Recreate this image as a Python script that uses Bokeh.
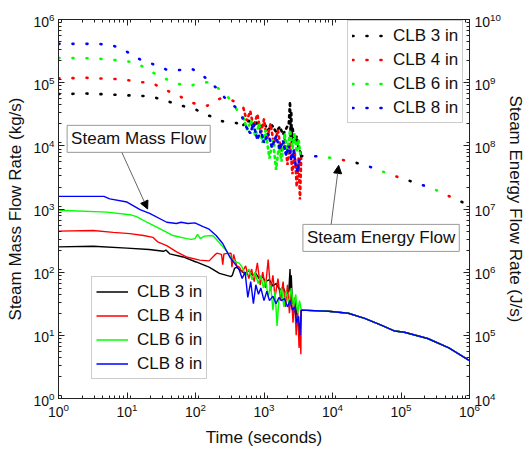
from bokeh.plotting import figure
from bokeh.models import (Range1d, LogScale, LogAxis, LogTicker, Legend, LegendItem,
                          Label, Arrow, NormalHead)
from bokeh.embed import file_html
from bokeh.resources import INLINE

FONT = "Liberation Sans"
series_names = ["CLB 3 in", "CLB 4 in", "CLB 6 in", "CLB 8 in"]
colors = ["#000000", "#ff0000", "#00ff00", "#0000ff"]

# ---------------- steam mass flow (kg/s), left axis ----------------
mass_t_3 = [1, 3.2, 10, 21, 34, 37, 42, 66, 102, 158, 224, 331, 345, 372, 400,
            450, 520, 600, 680, 760, 850, 950, 1050, 1200, 1350, 1500, 1700, 1900,
            2100, 2300, 2400, 2450, 2500, 2600, 2800, 3000, 3200, 3400, 3500]
mass_v_3 = [251, 257, 240, 229, 214, 224, 195, 174, 145, 120, 95.5, 85.1, 89.1, 115, 120,
            107, 95.5, 105, 89.1, 95.5, 79.4, 85.1, 70.8, 75.9, 60.3, 66.1, 52.5, 57.5,
            44.7, 50.1, 112, 35.5, 89.1, 31.6, 35.5, 22.4, 14.1, 10, 25.1]

mass_t_4 = [1, 3.2, 6.3, 11, 17.4, 24, 28, 38, 53, 74, 115, 158, 190, 205, 240, 250, 260,
            330, 340, 360, 400, 437,
            480, 540, 600, 660, 720, 800, 880, 960, 1050, 1150, 1250, 1350, 1450, 1600,
            1750, 1900, 2050, 2200, 2350, 2500, 2650, 2800, 2950, 3100, 3250, 3350, 3450, 3500]
mass_v_4 = [447, 457, 427, 407, 380, 355, 302, 263, 209, 174, 155, 151, 186, 200, 191, 132, 195,
            200, 120, 191, 126, 120,
            100, 126, 79.4, 112, 70.8, 141, 63.1, 100, 56.2, 158, 50.1, 89.1, 39.8, 79.4,
            35.5, 70.8, 28.2, 63.1, 22.4, 50.1, 15.8, 39.8, 10, 25.1, 6.31, 15.8, 5.01, 25.1]

mass_t_6 = [1, 5.1, 11, 13.8, 19.5, 30, 47, 74, 87, 98, 107, 118, 135, 178, 209, 282, 347, 437,
            480, 540, 600, 670, 740, 820, 900, 980, 1060, 1150, 1250, 1350, 1450, 1550, 1650,
            1800, 1950, 2100, 2300, 2500, 2700, 2900, 3100, 3300, 3500]
mass_v_6 = [955, 891, 813, 759, 617, 490, 380, 339, 331, 339, 398, 339, 372, 380, 316, 219, 155, 138,
            120, 89.1, 112, 75.9, 100, 66.1, 89.1, 56.2, 75.9, 39.8, 63.1, 25.1, 50.1, 14.1, 35.5,
            56.2, 28.2, 50.1, 31.6, 56.2, 28.2, 44.7, 22.4, 35.5, 25.1]

mass_t_8 = [1, 4.6, 5.6, 10, 15.5, 21.4, 38, 52.5, 61.7, 77.6, 98, 129, 158, 200, 251, 316, 389,
            430, 480, 530, 580, 640, 700, 760, 830, 900, 1000, 1100, 1200, 1350, 1500, 1650,
            1800, 2000, 2200, 2400, 2600, 2800, 3000, 3200, 3350, 3500]
mass_v_8 = [1585, 1585, 1445, 1288, 977, 851, 617, 589, 617, 589, 603, 525, 479, 380, 282, 174, 129,
            112, 79.4, 100, 39.8, 70.8, 31.6, 63.1, 44.7, 56.2, 35.5, 50.1, 35.5, 41.7, 31.6, 39.8,
            35.5, 38.0, 28.2, 35.5, 25.1, 28.2, 15.8, 20.0, 10, 25.1]

# common long-term tail of the mass flow (all sizes coincide)
mass_tail_t = [3500, 8700, 17000, 29500, 51300, 81300, 112000, 245000, 500000, 1000000]
mass_tail_v = [25.1, 24.0, 22.4, 18.6, 14.5, 11.7, 11.2, 8.91, 6.31, 3.98]

# ---------------- steam energy flow (J/s), right axis ----------------
en_t_3 = [1, 1.4, 2.3, 3.8, 6.2, 10, 16.6, 24.5, 38, 60, 98, 155, 200, 245, 316, 400,
          500, 600, 700, 800, 900, 1000, 1150, 1300, 1500, 1700, 1900, 2100, 2300, 2400,
          2450, 2500, 2550, 2600, 2800, 3000, 3200, 3400, 3500]
en_v_3 = [6.61e8, 6.61e8, 6.76e8, 6.61e8, 6.46e8, 6.31e8, 6.17e8, 5.89e8, 5.13e8, 4.37e8,
          3.80e8, 3.02e8, 2.75e8, 2.45e8, 2.34e8, 2.29e8,
          2.14e8, 2.51e8, 2.0e8, 2.40e8, 1.91e8, 2.29e8, 1.78e8, 2.14e8, 1.66e8, 2.0e8,
          1.51e8, 1.86e8, 2.24e8, 5.01e8, 1.26e8, 3.55e8, 1.0e8, 2.0e8, 1.12e8, 1.41e8,
          8.91e7, 7.94e7, 6.92e7]

en_t_4 = [1, 1.4, 2.3, 3.8, 6.2, 10, 15.8, 22.9, 35.5, 55, 89, 145, 230, 310, 457,
          500, 560, 630, 700, 800, 900, 1000, 1100, 1250, 1400, 1600, 1800, 2000, 2200,
          2400, 2600, 2800, 3000, 3200, 3350, 3450, 3500]
en_v_4 = [1.17e9, 1.17e9, 1.20e9, 1.17e9, 1.15e9, 1.10e9, 1.02e9, 1.0e9, 7.76e8, 6.31e8,
          4.79e8, 4.27e8, 5.62e8, 5.62e8, 4.37e8,
          3.98e8, 2.51e8, 3.55e8, 2.0e8, 3.16e8, 1.58e8, 2.63e8, 1.26e8, 2.24e8, 1.0e8,
          1.78e8, 7.08e7, 1.41e8, 5.01e7, 1.12e8, 3.55e7, 8.91e7, 2.24e7, 6.31e7, 1.41e7,
          3.98e7, 6.92e7]

en_t_6 = [1, 1.4, 2.3, 3.8, 6.2, 10, 14.5, 20.9, 30.9, 47.9, 79.4, 117.5, 170, 210, 300, 410,
          500, 570, 650, 750, 850, 950, 1050, 1200, 1350, 1500, 1650, 1800, 2000, 2200,
          2400, 2600, 2800, 3000, 3200, 3400, 3500]
en_v_6 = [2.45e9, 2.45e9, 2.45e9, 2.40e9, 2.29e9, 2.19e9, 2.0e9, 1.55e9, 1.26e9, 1.0e9,
          8.71e8, 1.0e9, 1.02e9, 8.32e8, 5.89e8, 3.63e8,
          2.82e8, 1.78e8, 2.51e8, 1.41e8, 2.24e8, 1.12e8, 1.78e8, 6.31e7, 1.26e8, 4.17e7,
          1.0e8, 5.62e7, 1.58e8, 7.94e7, 1.78e8, 8.91e7, 1.58e8, 7.94e7, 1.26e8, 7.08e7, 6.92e7]

en_t_8 = [1, 1.4, 2.3, 3.8, 6.2, 10, 15.5, 22.9, 37.2, 56.2, 89, 132, 200, 263, 331, 437,
          550, 630, 700, 800, 900, 1000, 1150, 1300, 1500, 1700, 1900, 2100, 2300, 2500,
          2700, 2900, 3100, 3300, 3500]
en_v_8 = [4.12e9, 4.12e9, 4.12e9, 4.12e9, 3.89e9, 3.09e9, 2.34e9, 2.0e9, 1.62e9, 1.58e9,
          1.66e9, 1.26e9, 8.32e8, 5.89e8, 4.68e8, 3.63e8,
          2.0e8, 1.58e8, 2.24e8, 1.26e8, 1.74e8, 1.12e8, 1.58e8, 9.55e7, 1.41e8, 8.91e7,
          1.20e8, 7.08e7, 1.0e8, 6.03e7, 8.32e7, 5.01e7, 3.98e7, 6.03e7, 6.92e7]

# common long-term tail of the energy flow
en_tail_t = [3500, 4470, 6920, 10960, 16980, 26900, 41700, 64600, 100000, 158000,
             245000, 380000, 600000, 1000000]
en_tail_v = [6.92e7, 6.92e7, 6.76e7, 6.31e7, 5.75e7, 5.13e7, 4.37e7, 3.63e7, 3.09e7,
             2.63e7, 2.24e7, 1.86e7, 1.45e7, 1.15e7]

x_label = "Time (seconds)"
y_label = "Steam Mass Flow Rate (kg/s)"
y2_label = "Steam Energy Flow Rate (J/s)"

mass_t = [mass_t_3, mass_t_4, mass_t_6, mass_t_8]
mass_v = [mass_v_3, mass_v_4, mass_v_6, mass_v_8]
en_t = [en_t_3, en_t_4, en_t_6, en_t_8]
en_v = [en_v_3, en_v_4, en_v_6, en_v_8]

p = figure(width=527, height=457, x_axis_type="log", y_axis_type="log",
           x_range=Range1d(1, 1e6), y_range=Range1d(1, 1e6),
           output_backend="svg", toolbar_location=None,
           min_border_left=58, min_border_right=55, min_border_top=19, min_border_bottom=59)
p.extra_y_ranges = {"energy": Range1d(1e4, 1e10)}
p.extra_y_scales = {"energy": LogScale()}
p.xgrid.visible = False
p.ygrid.visible = False
p.outline_line_color = "#222222"
p.background_fill_color = "white"
p.border_fill_color = "white"

bottom_axis = p.below[0]
left_axis = p.left[0]
right_axis = LogAxis(y_range_name="energy")
top_axis = LogAxis()
p.add_layout(right_axis, "right")
p.add_layout(top_axis, "above")

for ax in [bottom_axis, left_axis, right_axis, top_axis]:
    ax.ticker = LogTicker(num_minor_ticks=9)
    ax.major_tick_in = 6
    ax.major_tick_out = 0
    ax.minor_tick_in = 3
    ax.minor_tick_out = 0
    ax.axis_line_color = "#222222"
    ax.major_tick_line_color = "#222222"
    ax.minor_tick_line_color = "#222222"
    ax.major_label_text_font = FONT
    ax.major_label_text_font_size = "14px"
    ax.major_label_text_color = "#111111"
    ax.axis_label_text_font = FONT
    ax.axis_label_text_font_size = "17px"
    ax.axis_label_text_font_style = "normal"
    ax.axis_label_text_color = "#111111"
    ax.major_label_standoff = 4
    ax.axis_label_standoff = 3

bottom_axis.axis_label_standoff = 8
left_axis.axis_label_standoff = 5
right_axis.major_label_standoff = 5
right_axis.axis_label_standoff = 2
top_axis.major_label_text_font_size = "1px"
top_axis.major_label_text_alpha = 0
top_axis.major_label_standoff = 0
bottom_axis.axis_label = x_label
left_axis.axis_label = y_label
right_axis.axis_label = y2_label

# solid lines: mass flow
mass_renderers = []
for t, v, c in zip(mass_t, mass_v, colors):
    r = p.line(t + mass_tail_t[1:], v + mass_tail_v[1:], line_color=c, line_width=1.4)
    mass_renderers.append(r)

# dotted lines: energy flow (smooth early part, dense noisy part, shared tail)
en_renderers = []
for t, v, c in zip(en_t, en_v, colors):
    k = sum(1 for tt in t if tt < 470)
    r = p.line(t[:k + 1], v[:k + 1], y_range_name="energy", line_color=c, line_width=2.6,
               line_dash="1 13", line_cap="round")
    p.line(t[k:], v[k:], y_range_name="energy", line_color=c, line_width=2.6,
           line_dash="2 4", line_cap="round")
    en_renderers.append(r)
for i, c in enumerate(colors):
    p.line(en_tail_t, en_tail_v, y_range_name="energy", line_color=c, line_width=2.6,
           line_dash="1 55", line_dash_offset=i * 14, line_cap="round")

leg_common = dict(label_text_font=FONT, label_text_font_size="17px", label_text_color="#111111",
                  glyph_width=32, glyph_height=21, label_height=21, spacing=3, padding=4,
                  margin=0, label_standoff=9, border_line_color="#999999",
                  border_line_width=1, background_fill_color="white", background_fill_alpha=1)

leg_energy = Legend(items=[LegendItem(label=n, renderers=[r]) for n, r in zip(series_names, en_renderers)],
                    location=(289, 275), **leg_common)
leg_mass = Legend(items=[LegendItem(label=n, renderers=[r]) for n, r in zip(series_names, mass_renderers)],
                  location=(33, 19), **leg_common)
p.add_layout(leg_energy, "center")
p.add_layout(leg_mass, "center")

lab_mass = Label(x=14.8, y=12900, text="Steam Mass Flow", text_align="center",
                 text_baseline="middle", text_font=FONT, text_font_size="17px",
                 text_color="#111111", border_line_color="#999999",
                 background_fill_color="white", padding=4)
lab_energy = Label(x=51200, y=349, text="Steam Energy Flow", text_align="center",
                   text_baseline="middle", text_font=FONT, text_font_size="17px",
                   text_color="#111111", border_line_color="#999999",
                   background_fill_color="white", padding=4)
p.add_layout(lab_mass)
p.add_layout(lab_energy)

p.add_layout(Arrow(end=NormalHead(size=8, fill_color="black", line_color="black"),
                   x_start=8.4, y_start=7900, x_end=20, y_end=1000,
                   line_color="#666666", line_width=1))
p.add_layout(Arrow(end=NormalHead(size=8, fill_color="black", line_color="black"),
                   x_start=9550, y_start=570, x_end=12300, y_end=4900,
                   line_color="#666666", line_width=1))

open("out.html", "w").write(file_html(p, INLINE))
